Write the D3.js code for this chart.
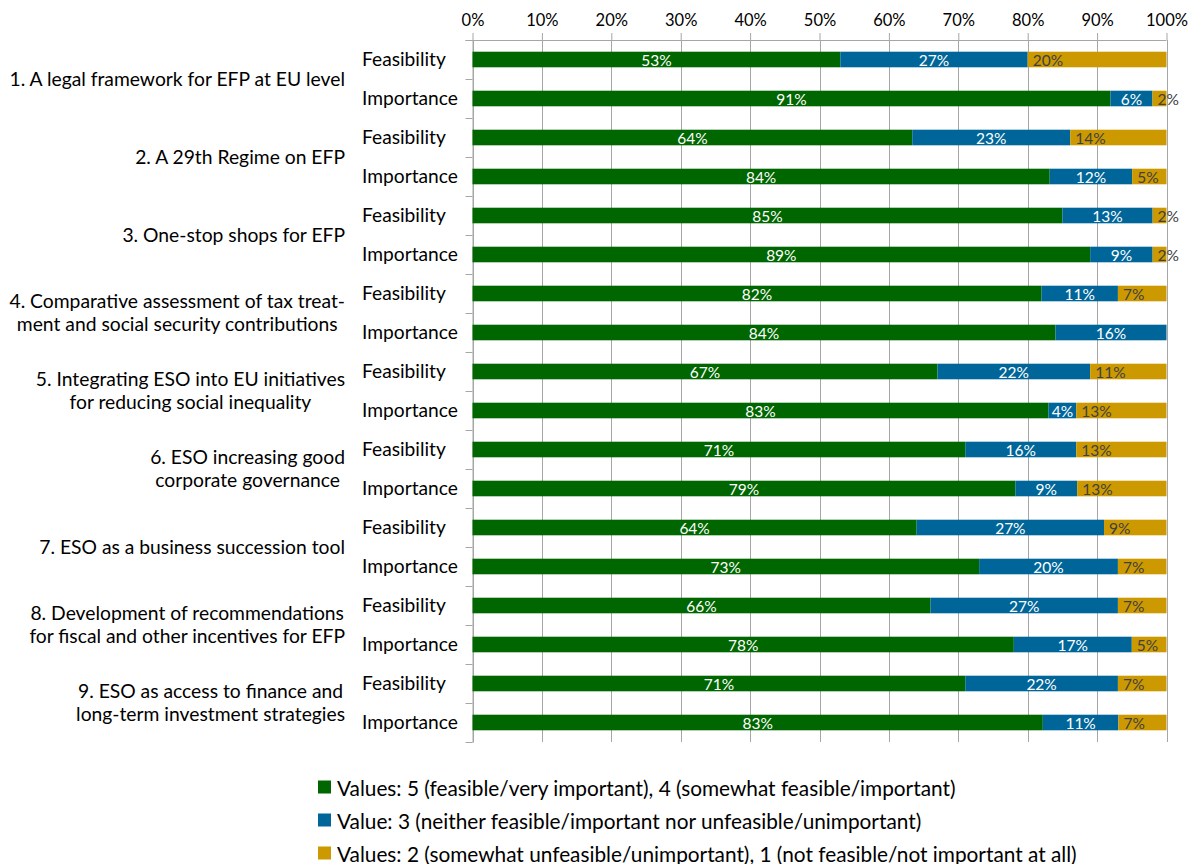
<!DOCTYPE html>
<html>
<head>
<meta charset="utf-8">
<script src="https://cdn.jsdelivr.net/npm/d3@7"></script>
<style>
  html, body { margin: 0; padding: 0; background: #fff; }
  svg { display: block; font-family: Lato, "Open Sans", "DejaVu Sans", sans-serif; }
</style>
</head>
<body>
<svg id="chart" width="1191" height="864"></svg>
<script>
// Survey measures, each rated for feasibility and importance
const groupLabels = [
  ["1. A legal framework for EFP at EU level"],
  ["2. A 29th Regime on EFP"],
  ["3. One-stop shops for EFP"],
  ["4. Comparative assessment of tax treat-", "ment and social security contributions"],
  ["5. Integrating ESO into EU initiatives", "for reducing social inequality"],
  ["6. ESO increasing good", "corporate governance"],
  ["7. ESO as a business succession tool"],
  ["8. Development of recommendations", "for fiscal and other incentives for EFP"],
  ["9. ESO as access to finance and", "long-term investment strategies"]
];
const dimensions = ["Feasibility", "Importance"];

// Shares (%) per row: rows alternate Feasibility / Importance for each measure
const positiveShare = [53, 91, 64, 84, 85, 89, 82, 84, 67, 83, 71, 79, 64, 73, 66, 78, 71, 83];
const neutralShare  = [27,  6, 23, 12, 13,  9, 11, 16, 22,  4, 16,  9, 27, 20, 27, 17, 22, 11];
const negativeShare = [20,  2, 14,  5,  2,  2,  7,  0, 11, 13, 13, 13,  9,  7,  7,  5,  7,  7];

const seriesKeys = ["positive", "neutral", "negative"];
const seriesColors = ["#006600", "#006699", "#cc9900"];
const legendLabels = [
  "Values: 5 (feasible/very important), 4 (somewhat feasible/important)",
  "Value: 3 (neither feasible/important nor unfeasible/unimportant)",
  "Values: 2 (somewhat unfeasible/unimportant), 1 (not feasible/not important at all)"
];
const tickValues = [0, 0.1, 0.2, 0.3, 0.4, 0.5, 0.6, 0.7, 0.8, 0.9, 1];

// Build row records
const rows = positiveShare.map((p, i) => ({
  id: i,
  group: Math.floor(i / 2),
  dimension: dimensions[i % 2],
  positive: p,
  neutral: neutralShare[i],
  negative: negativeShare[i]
}));

const svg = d3.select("#chart");

const plotLeft = 472.5, plotRight = 1166.5, plotTop = 40, plotBottom = 742;

const x = d3.scaleLinear().domain([0, 1]).range([plotLeft, plotRight]);
const y = d3.scaleBand()
  .domain(rows.map(d => d.id))
  .range([plotTop, plotBottom])
  .paddingInner(0.6)
  .paddingOuter(0.3);

const color = d3.scaleOrdinal().domain(seriesKeys).range(seriesColors);

const stacked = d3.stack()
  .keys(seriesKeys)
  .offset(d3.stackOffsetExpand)(rows);

const gridColor = "#a6a6a6";

// Vertical gridlines
svg.append("g")
  .selectAll("line")
  .data(tickValues)
  .join("line")
  .attr("x1", d => Math.round(x(d)) + 0.5)
  .attr("x2", d => Math.round(x(d)) + 0.5)
  .attr("y1", plotTop)
  .attr("y2", plotBottom)
  .attr("stroke", gridColor)
  .attr("stroke-width", 1);

// Top percentage axis
const topAxis = svg.append("g")
  .attr("transform", `translate(0,${plotTop})`)
  .call(d3.axisTop(x)
    .tickValues(tickValues)
    .tickFormat(d3.format(".0%"))
    .tickSize(7)
    .tickPadding(7));
topAxis.select(".domain")
  .attr("d", `M${plotLeft - 7},0.5H${plotRight}`)
  .attr("stroke", gridColor);
topAxis.selectAll(".tick line").attr("stroke", gridColor);
topAxis.selectAll(".tick text")
  .attr("fill", "#000")
  .style("font-size", "16.5px")
  .style("font-family", "Lato, 'Open Sans', sans-serif");

// Left category axis: line plus ticks at row boundaries
const step = y.step();
const boundaries = rows.map(d => y(d.id) - (step - y.bandwidth()) / 2);
boundaries.push(plotBottom);
const leftAxis = svg.append("g");
leftAxis.append("line")
  .attr("x1", Math.round(plotLeft))
  .attr("x2", Math.round(plotLeft))
  .attr("y1", plotTop)
  .attr("y2", plotBottom + 1)
  .attr("stroke", gridColor);
leftAxis.selectAll("line.tick")
  .data(boundaries)
  .join("line")
  .attr("class", "tick")
  .attr("x1", plotLeft - 7)
  .attr("x2", plotLeft)
  .attr("y1", d => Math.round(d) + 0.5)
  .attr("y2", d => Math.round(d) + 0.5)
  .attr("stroke", gridColor);

// Stacked bars
const layer = svg.append("g")
  .selectAll("g")
  .data(stacked)
  .join("g")
  .attr("fill", d => color(d.key));

layer.selectAll("rect")
  .data(d => d.map(s => ({ key: d.key, s })))
  .join("rect")
  .attr("x", d => x(d.s[0]))
  .attr("y", d => y(d.s.data.id))
  .attr("width", d => x(d.s[1]) - x(d.s[0]))
  .attr("height", y.bandwidth());

// Value labels inside the segments
const labelData = [];
stacked.forEach(series => {
  series.forEach(s => {
    const v = s.data[series.key];
    if (v > 0) labelData.push({ key: series.key, s, v });
  });
});

svg.append("g")
  .selectAll("text")
  .data(labelData)
  .join("text")
  .attr("x", d => d.key === "negative" ? x(d.s[0]) + 5 : (x(d.s[0]) + x(d.s[1])) / 2)
  .attr("y", d => y(d.s.data.id) + y.bandwidth() / 2 + 0.5)
  .attr("text-anchor", d => d.key === "negative" ? "start" : "middle")
  .attr("dominant-baseline", "central")
  .attr("fill", d => d.key === "negative" ? "#404040" : "#ffffff")
  .style("font-size", "15.5px")
  .text(d => d.v + "%");

// Inner category labels (Feasibility / Importance)
svg.append("g")
  .selectAll("text")
  .data(rows)
  .join("text")
  .attr("x", 362)
  .attr("y", d => y(d.id) + y.bandwidth() / 2 - 1.5)
  .attr("dominant-baseline", "central")
  .attr("fill", "#000")
  .style("font-size", "19.2px")
  .text(d => d.dimension);

// Outer group labels: lines centred within a block right-aligned to the axis labels
const groupLayer = svg.append("g");
groupLabels.forEach((lines, gi) => {
  const mid = boundaries[gi * 2 + 1] - 1;
  const lineGap = 23.5;
  const g = groupLayer.append("g");
  const texts = g.selectAll("text")
    .data(lines)
    .join("text")
    .attr("dominant-baseline", "central")
    .attr("fill", "#000")
    .style("font-size", "19.3px")
    .attr("y", (d, i) => mid + (i - (lines.length - 1) / 2) * lineGap)
    .text(d => d);
  let maxW = 0;
  texts.each(function () { maxW = Math.max(maxW, this.getComputedTextLength()); });
  texts.attr("text-anchor", "middle").attr("x", 345 - maxW / 2);
});

// Legend
const legend = svg.append("g")
  .selectAll("g")
  .data(legendLabels)
  .join("g")
  .attr("transform", (d, i) => `translate(318,${787 + i * 33})`);
legend.append("rect")
  .attr("x", 0)
  .attr("y", -6.5)
  .attr("width", 13)
  .attr("height", 13)
  .attr("fill", (d, i) => seriesColors[i]);
legend.append("text")
  .attr("x", 19)
  .attr("y", 0)
  .attr("dominant-baseline", "central")
  .attr("fill", "#000")
  .style("font-size", "20.8px")
  .text(d => d);
</script>
</body>
</html>
